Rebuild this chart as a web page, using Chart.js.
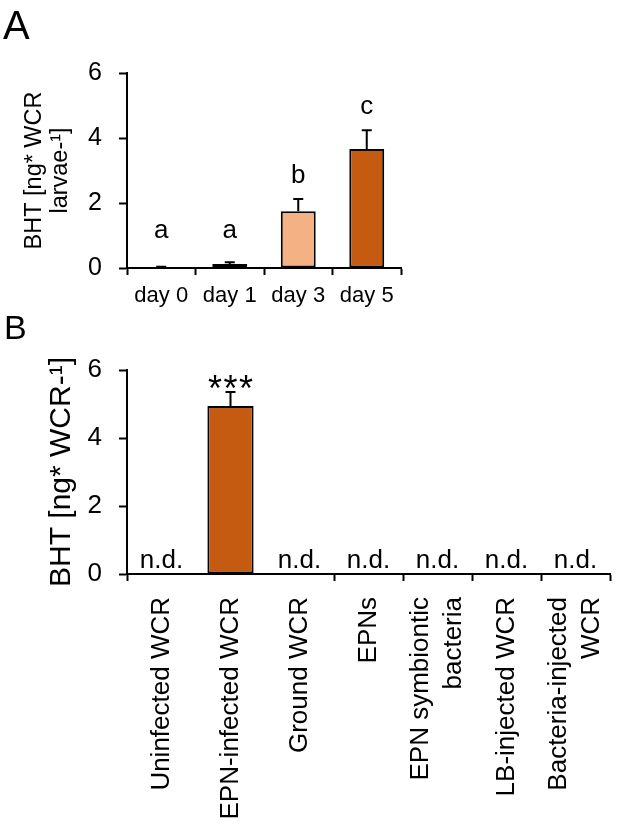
<!DOCTYPE html>
<html>
<head>
<meta charset="utf-8">
<script src="https://cdn.jsdelivr.net/npm/chart.js@4"></script>
<style>
  html, body { margin: 0; padding: 0; background: #fff; }
  #wrap { position: relative; width: 617px; height: 831px; }
  #chartA { position: absolute; left: 0; top: 0; }
  #chartB { position: absolute; left: 0; top: 310px; }
</style>
</head>
<body>
<div id="wrap">
  <canvas id="chartA" width="617" height="310"></canvas>
  <canvas id="chartB" width="617" height="521"></canvas>
</div>
<script>
// panel A - BHT over time
const daysA = ['day 0', 'day 1', 'day 3', 'day 5'];
const meanA = [0.03, 0.12, 1.75, 3.66];
const errA = [0.01, 0.06, 0.37, 0.58];
const lettersA = ['a', 'a', 'b', 'c'];
const colorsA = ['#ffffff', '#ffffff', '#f4b183', '#c55a11'];

// panel B - BHT in the different sources
const groupsB = ['Uninfected WCR', 'EPN-infected WCR', 'Ground WCR', 'EPNs',
  ['EPN symbiontic', 'bacteria'], 'LB-injected WCR', ['Bacteria-injected', 'WCR']];
const meanB = [null, 4.94, null, null, null, null, null];
const errB = [null, 0.41, null, null, null, null, null];
const marksB = ['n.d.', '***', 'n.d.', 'n.d.', 'n.d.', 'n.d.', 'n.d.'];

const yTicks = [0, 2, 4, 6];

const FONT = '"Liberation Sans", Arial, sans-serif';
Chart.defaults.font.family = FONT;
Chart.defaults.color = '#000';

// error bars (upper half only) + text above the bars
function annotate(mean, err, letter, opts) {
  return {
    id: 'annot',
    afterDatasetsDraw(chart) {
      const { ctx, scales: { x, y } } = chart;
      ctx.save();
      ctx.strokeStyle = '#000';
      ctx.fillStyle = '#000';
      ctx.lineWidth = 2;
      mean.forEach((m, i) => {
        const px = x.getPixelForValue(i);
        if (m == null) {
          // not detected
          ctx.font = opts.ndFont + 'px ' + FONT;
          ctx.textAlign = 'center';
          ctx.textBaseline = 'alphabetic';
          ctx.fillText(letter[i], px, y.getPixelForValue(0) - 6);
          return;
        }
        const y0 = y.getPixelForValue(m);
        const y1 = y.getPixelForValue(m + err[i]);
        ctx.beginPath();
        ctx.moveTo(px, y0); ctx.lineTo(px, y1);
        ctx.moveTo(px - opts.cap, y1); ctx.lineTo(px + opts.cap, y1);
        ctx.stroke();
        ctx.textAlign = 'center';
        ctx.textBaseline = 'alphabetic';
        if (letter[i] === '***') {
          ctx.font = '36px ' + FONT;
          [-1, 0, 1].forEach(k => ctx.fillText('*', px + k * 15.5, y1 + 9));
        } else {
          ctx.font = opts.letterFont + 'px ' + FONT;
          const base = Math.min(y1 - 16, y.getPixelForValue(0) - 30);
          ctx.fillText(letter[i], px, base);
        }
      });
      ctx.restore();
    },
    afterDraw(chart) {
      const { ctx } = chart;
      ctx.save();
      ctx.fillStyle = '#000';
      ctx.font = opts.panelFont + 'px ' + FONT;
      ctx.textAlign = 'left';
      ctx.textBaseline = 'alphabetic';
      ctx.fillText(opts.panel, opts.panelX, opts.panelY);
      ctx.restore();
    }
  };
}

// rotated, multi line category labels for panel B
const rotatedLabels = {
  id: 'rotLabels',
  afterDraw(chart) {
    const { ctx, scales: { x } } = chart;
    ctx.save();
    ctx.fillStyle = '#000';
    ctx.font = '26px ' + FONT;
    ctx.textAlign = 'right';
    ctx.textBaseline = 'middle';
    groupsB.forEach((g, i) => {
      const lines = Array.isArray(g) ? g : [g];
      const px = x.getPixelForValue(i);
      lines.forEach((line, j) => {
        ctx.save();
        ctx.translate(px + (j - (lines.length - 1) / 2) * 33, x.top + 23);
        ctx.rotate(-Math.PI / 2);
        ctx.fillText(line, 0, 0);
        ctx.restore();
      });
    });
    ctx.restore();
  }
};

function yAxis(tickSize, title, titleFont, lineHeight, titlePad) {
  return {
    min: 0, max: 6,
    afterBuildTicks: s => { s.ticks = yTicks.map(v => ({ value: v })); },
    ticks: { font: { size: tickSize }, color: '#000', padding: 17 },
    grid: { drawOnChartArea: false, tickLength: 8, tickColor: '#000', tickWidth: 2 },
    border: { color: '#000', width: 2 },
    title: {
      display: true, text: title, color: '#000',
      font: { size: titleFont, lineHeight: lineHeight },
      padding: { top: titlePad, bottom: 0 }
    },
    afterFit: s => { s.width = 127; }
  };
}

new Chart(document.getElementById('chartA'), {
  type: 'bar',
  data: {
    labels: daysA,
    datasets: [{
      data: meanA,
      backgroundColor: colorsA,
      borderColor: '#000',
      borderWidth: 2,
      borderSkipped: false,
      categoryPercentage: 1,
      barPercentage: 0.51
    }]
  },
  options: {
    responsive: false,
    animation: false,
    layout: { padding: { top: 73, right: 216, left: 0, bottom: 0 } },
    plugins: { legend: { display: false }, tooltip: { enabled: false } },
    scales: {
      x: {
        ticks: { font: { size: 22 }, color: '#000', padding: 8 },
        grid: { drawOnChartArea: false, tickLength: 7, tickColor: '#000', tickWidth: 2, offset: true },
        border: { color: '#000', width: 2 },
        afterFit: s => { s.height = 42; }
      },
      y: yAxis(25, ['BHT [ng* WCR', 'larvae-\u00b9]'], 23.5, 1.1, 22)
    }
  },
  plugins: [annotate(meanA, errA, lettersA,
    { cap: 5, letterFont: 26, ndFont: 26, panel: 'A', panelFont: 40, panelX: 3, panelY: 39 })]
});

new Chart(document.getElementById('chartB'), {
  type: 'bar',
  data: {
    labels: groupsB,
    datasets: [{
      data: meanB,
      backgroundColor: '#c55a11',
      borderColor: '#000',
      borderWidth: 2,
      borderSkipped: false,
      categoryPercentage: 1,
      barPercentage: 0.67
    }]
  },
  options: {
    responsive: false,
    animation: false,
    layout: { padding: { top: 60, right: 7, left: 0, bottom: 0 } },
    plugins: { legend: { display: false }, tooltip: { enabled: false } },
    scales: {
      x: {
        ticks: { display: false },
        grid: {
          drawOnChartArea: false, tickLength: 7, tickWidth: 2, offset: true,
          tickColor: c => (c.index === 1 || c.index === 2) ? 'rgba(0,0,0,0)' : '#000'
        },
        border: { color: '#000', width: 2 },
        afterFit: s => { s.height = 257; }
      },
      y: yAxis(26, 'BHT [ng* WCR-\u00b9]', 30, 1.2, 44)
    }
  },
  plugins: [annotate(meanB, errB, marksB,
    { cap: 5, letterFont: 26, ndFont: 26, panel: 'B', panelFont: 34, panelX: 4, panelY: 29 }), rotatedLabels]
});
</script>
</body>
</html>
